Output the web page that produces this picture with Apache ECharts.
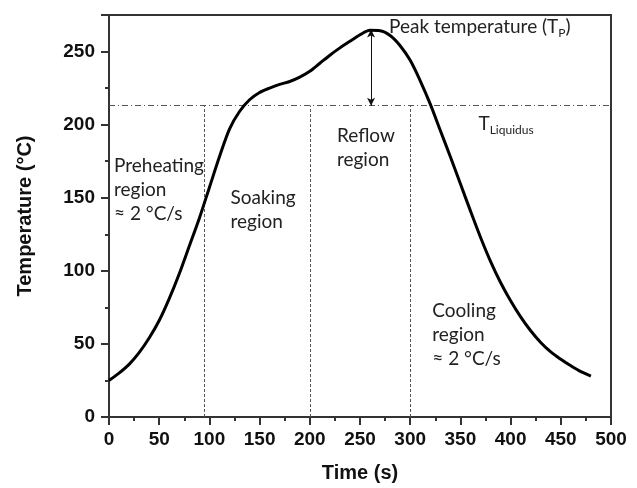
<!DOCTYPE html>
<html>
<head>
<meta charset="UTF-8">
<script src="https://cdn.jsdelivr.net/npm/echarts@6/dist/echarts.min.js"></script>
<title>Reflow profile</title>
<style>
html, body { margin: 0; padding: 0; background: #fff; }
#main { width: 637px; height: 488px; }
</style>
</head>
<body>
<div id="main"></div>
<script>
// reflow temperature profile
var timeS = [0, 10, 20, 30, 40, 50, 60, 70, 80, 90, 100, 110, 120, 130, 140, 150, 160, 170, 180, 190, 200, 210, 220, 230, 240, 250, 260, 270, 280, 290, 300, 310, 320, 330, 340, 350, 360, 370, 380, 390, 400, 410, 420, 430, 440, 450, 460, 470, 480];
var tempC = [25, 30, 36, 44, 54, 66, 81, 98, 117, 136, 157, 178, 197, 209, 217, 222, 225, 227.5, 229.5, 232.5, 236.5, 242, 247.5, 252.5, 257, 261.5, 264.5, 264.3, 261, 254, 244, 230, 214, 196, 178, 159.5, 141, 123, 106.5, 92, 79.5, 68.5, 59, 51, 44.5, 39.5, 35, 31, 28];
var regionBounds = [95, 200, 300];
var liquidus = 213;
var peakTime = 261;
var peakTemp = 265;
var xTicks = { min: 0, max: 500, step: 50 };
var yTicks = { min: 0, max: 275, step: 50 };

var mychart = echarts.init(document.getElementById('main'));

var curve = [];
for (var i = 0; i < timeS.length; i++) {
	curve.push([timeS[i], tempC[i]]);
}

//竖线 0 到液相线
var boundLines = regionBounds.map(function (t) {
	return [{ coord: [t, 0] }, { coord: [t, liquidus] }];
});

var axisFont = {
	color: '#111',
	fontSize: 19,
	fontWeight: 'bold',
	fontFamily: 'Liberation Sans, Arial, sans-serif'
};

var option = {
	animation: false,
	grid: {
		left: 109, right: 26, top: 15, bottom: 68,
		show: true, borderColor: '#333', borderWidth: 2
	},
	xAxis: {
		type: 'value',
		min: xTicks.min, max: xTicks.max, interval: xTicks.step,
		name: 'Time (s)',
		nameLocation: 'middle',
		nameGap: 46,
		nameTextStyle: { color: '#111', fontSize: 20, fontWeight: 'bold', fontFamily: 'Liberation Sans, Arial, sans-serif' },
		axisLine: { onZero: false, lineStyle: { color: '#333', width: 2 } },
		axisTick: { show: true, length: 8, lineStyle: { color: '#333', width: 2 } },
		minorTick: { show: true, splitNumber: 2, length: 4, lineStyle: { color: '#333', width: 2 } },
		axisLabel: Object.assign({ margin: 13 }, axisFont),
		splitLine: { show: false }
	},
	yAxis: {
		type: 'value',
		min: yTicks.min, max: yTicks.max, interval: yTicks.step,
		name: 'Temperature (°C)',
		nameLocation: 'middle',
		nameGap: 74,
		nameTextStyle: { color: '#111', fontSize: 20, fontWeight: 'bold', fontFamily: 'Liberation Sans, Arial, sans-serif' },
		axisLine: { show: true, onZero: false, lineStyle: { color: '#333', width: 2 } },
		axisTick: { show: true, length: 8, lineStyle: { color: '#333', width: 2 } },
		minorTick: { show: true, splitNumber: 2, length: 4, lineStyle: { color: '#333', width: 2 } },
		axisLabel: Object.assign({ margin: 14, showMaxLabel: false }, axisFont),
		splitLine: { show: false }
	},
	series: [{
		type: 'line',
		data: curve,
		smooth: 0.3,
		showSymbol: false,
		lineStyle: { color: '#000', width: 3 },
		z: 5,
		markLine: {
			silent: true,
			symbol: 'none',
			label: { show: false },
			data: [
				[{ coord: [xTicks.min, liquidus] }, { coord: [xTicks.max, liquidus] }]
			],
			lineStyle: { color: '#555', width: 1, type: [6, 3, 1, 3] }
		}
	}, {
		type: 'line',
		data: [],
		markLine: {
			silent: true,
			symbol: 'none',
			label: { show: false },
			data: boundLines,
			lineStyle: { color: '#555', width: 1, type: [3, 2] }
		}
	}, {
		type: 'line',
		data: [],
		markLine: {
			silent: true,
			symbol: ['arrow', 'arrow'],
			symbolSize: [6, 8],
			label: { show: false },
			data: [[{ coord: [peakTime, liquidus] }, { coord: [peakTime, peakTemp] }]],
			lineStyle: { color: '#111', width: 1, type: 'solid' }
		}
	}]
};

mychart.setOption(option);

//文字注释 放在数据坐标上
var noteFont = 'Lato, "Open Sans", sans-serif';
var rich = {
	n: { fontSize: 19, fontFamily: noteFont, color: '#222', lineHeight: 24 },
	s: { fontSize: 12, fontFamily: noteFont, color: '#222', lineHeight: 12, verticalAlign: 'bottom' }
};
var notes = [
	{ at: [5, 180], text: '{n|Preheating}\n{n|region}\n{n|≈ 2 °C/s}' },
	{ at: [121, 158], text: '{n|Soaking}\n{n|region}' },
	{ at: [227, 200.5], text: '{n|Reflow}\n{n|region}' },
	{ at: [322, 81], text: '{n|Cooling}\n{n|region}\n{n|≈ 2 °C/s}' },
	{ at: [279, 275], text: '{n|Peak temperature (T}{s|P}{n|)}' },
	{ at: [368, 208.5], text: '{n|T}{s|Liquidus}' }
];
var graphics = notes.map(function (item) {
	var p = mychart.convertToPixel({ gridIndex: 0 }, item.at);
	return {
		type: 'text',
		x: p[0], y: p[1],
		z: 10,
		style: { text: item.text, rich: rich, fill: '#222' }
	};
});
mychart.setOption({ graphic: graphics });
</script>
</body>
</html>
